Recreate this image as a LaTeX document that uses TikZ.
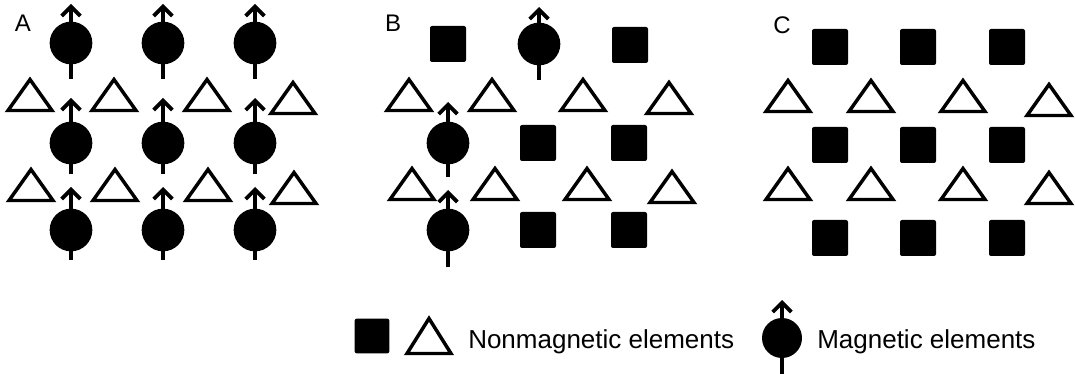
\documentclass[tikz,border=0pt]{standalone}
\usepackage{fontspec}
\setmainfont{Liberation Sans}
\usetikzlibrary{arrows.meta}
\newcommand\spinarrow[3]{%
  \draw[gap] (#1) ++(0,19) -- ++(0,-38);
  \draw[spin] (#1) ++(0,#2) -- ++(0,-#2-#3);}
\begin{document}
\begin{tikzpicture}[x=0.75pt,y=-0.75pt,
  mag/.style={circle,fill=black,minimum size=32pt,inner sep=0pt},
  sq/.style={rectangle,fill=black,rounded corners=1.5pt,minimum size=27pt,inner sep=0pt},
  spin/.style={line width=2.8pt,-{Straight Barb[length=7pt,width=14pt]}},
  gap/.style={white,line width=3.5pt},
  tri/.style={draw=black,fill=white,line width=2.6pt,line join=miter},
  lbl/.style={font=\fontsize{18}{20}\selectfont,inner sep=0pt},
  leg/.style={font=\fontsize{19.5}{22}\selectfont,anchor=base west,inner sep=0pt},
  pics/trig/.style={code={\draw[tri] (-22,15.5)--(0,-15.5)--(22,15.5)--cycle;}},
  pics/trigleg/.style={code={\draw[tri] (-22,17.5)--(0,-17.5)--(22,17.5)--cycle;}}]
\useasboundingbox (0,0) rectangle (1075,374);

% ---------- panel labels
\node[lbl] (labA) at (23,23) {A};
\node[lbl] (labB) at (393,23) {B};
\node[lbl] (labC) at (782,25) {C};

% ---------- panel A
\foreach \i/\x in {1/71,2/163,3/255}{
  \node[mag] (a1\i) at (\x,43) {};
  \node[mag] (a2\i) at (\x,143) {};
  \node[mag] (a3\i) at (\x,230) {};
  \spinarrow{a1\i}{36}{39}
  \spinarrow{a2\i}{31}{45}
  \spinarrow{a3\i}{30}{43}
}
\pic at (30,95) {trig}; \pic at (114,95) {trig}; \pic at (207,95) {trig}; \pic at (293,98) {trig};
\pic at (31,185) {trig}; \pic at (115,185) {trig}; \pic at (208,185) {trig}; \pic at (294,188) {trig};

% ---------- panel B
\node[sq] (b11) at (448,44) {};
\node[mag] (b12) at (539,44) {};
\node[sq] (b13) at (630,45) {};
\node[mag] (b21) at (448,143) {};
\node[sq] (b22) at (538,143) {};
\node[sq] (b23) at (629,143) {};
\node[mag] (b31) at (448,230) {};
\node[sq] (b32) at (538,230) {};
\node[sq] (b33) at (629,230) {};
\spinarrow{b12}{36}{37}
\spinarrow{b21}{34}{41}
\spinarrow{b31}{37}{40}
\pic at (409,95) {trig}; \pic at (492,95) {trig}; \pic at (583,95) {trig}; \pic at (669,98) {trig};
\pic at (412,184) {trig}; \pic at (495,184) {trig}; \pic at (587,184) {trig}; \pic at (672,187) {trig};

% ---------- panel C
\foreach \i/\x in {1/830,2/918,3/1007}{
  \node[sq] (c1\i) at (\x,47) {};
  \node[sq] (c2\i) at (\x,145) {};
  \node[sq] (c3\i) at (\x,238) {};
}
\pic at (788,96) {trig}; \pic at (871,96) {trig}; \pic at (963,96) {trig}; \pic at (1049,100) {trig};
\pic at (788,184) {trig}; \pic at (871,184) {trig}; \pic at (963,184) {trig}; \pic at (1049,188) {trig};

% ---------- legend
\node[sq,minimum size=26pt] (lsq) at (372,336) {};
\pic at (429,336) {trigleg};
\node[leg] (ltxt1) at (468,348) {Nonmagnetic elements};
\node[mag,minimum size=30pt] (lmag) at (782,338) {};
\spinarrow{lmag}{36}{38}
\node[leg] (ltxt2) at (817,348) {Magnetic elements};
\end{tikzpicture}
\end{document}
